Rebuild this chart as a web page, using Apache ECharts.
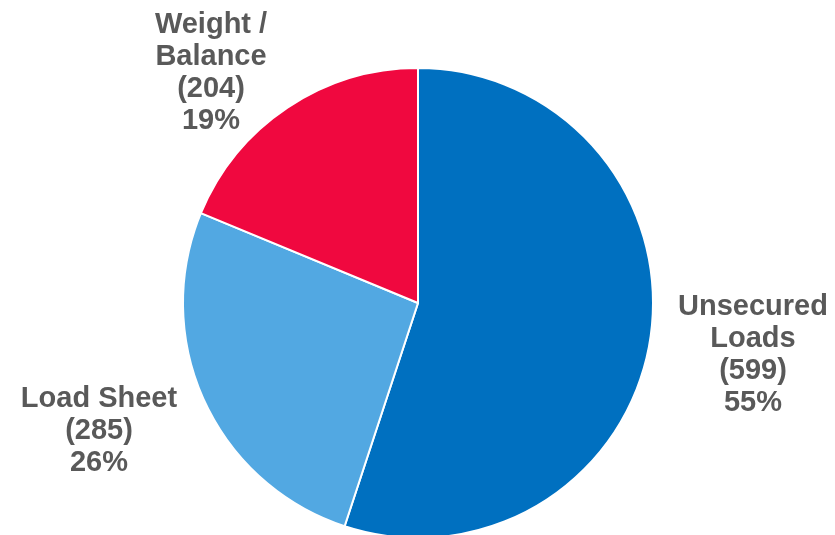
<!DOCTYPE html>
<html>
<head>
<meta charset="utf-8">
<script src="https://cdn.jsdelivr.net/npm/echarts@6/dist/echarts.min.js"></script>
<style>html,body{margin:0;padding:0;background:#fff}#c{width:835px;height:535px}</style>
</head>
<body>
<div id="c"></div>
<script>
const categories = ['Unsecured\nLoads', 'Load Sheet', 'Weight /\nBalance'];
const values = [599, 285, 204];
const colors = ['#0070C0', '#52A8E2', '#F0083F'];
const labelPos = [[753, 355], [99, 431], [211, 73]];

const chart = echarts.init(document.getElementById('c'));
chart.setOption({
  animation: false,
  series: [{
    type: 'pie',
    center: [418, 303],
    radius: 235,
    startAngle: 90,
    clockwise: true,
    data: categories.map((n, i) => ({name: n, value: values[i], itemStyle: {color: colors[i]}})),
    itemStyle: {borderColor: '#fff', borderWidth: 2},
    label: {
      show: true,
      position: 'outside',
      formatter: p => p.name + '\n(' + p.value + ')\n' + Math.round(p.percent) + '%',
      fontFamily: 'Liberation Sans, Arial, sans-serif',
      fontWeight: 'bold',
      fontSize: 29,
      lineHeight: 32,
      color: '#595959',
      align: 'center',
      overflow: 'none',
      width: 300
    },
    labelLine: {show: false},
    labelLayout: p => ({
      x: labelPos[p.dataIndex][0],
      y: labelPos[p.dataIndex][1],
      align: 'center',
      verticalAlign: 'middle'
    })
  }]
});
</script>
</body>
</html>
